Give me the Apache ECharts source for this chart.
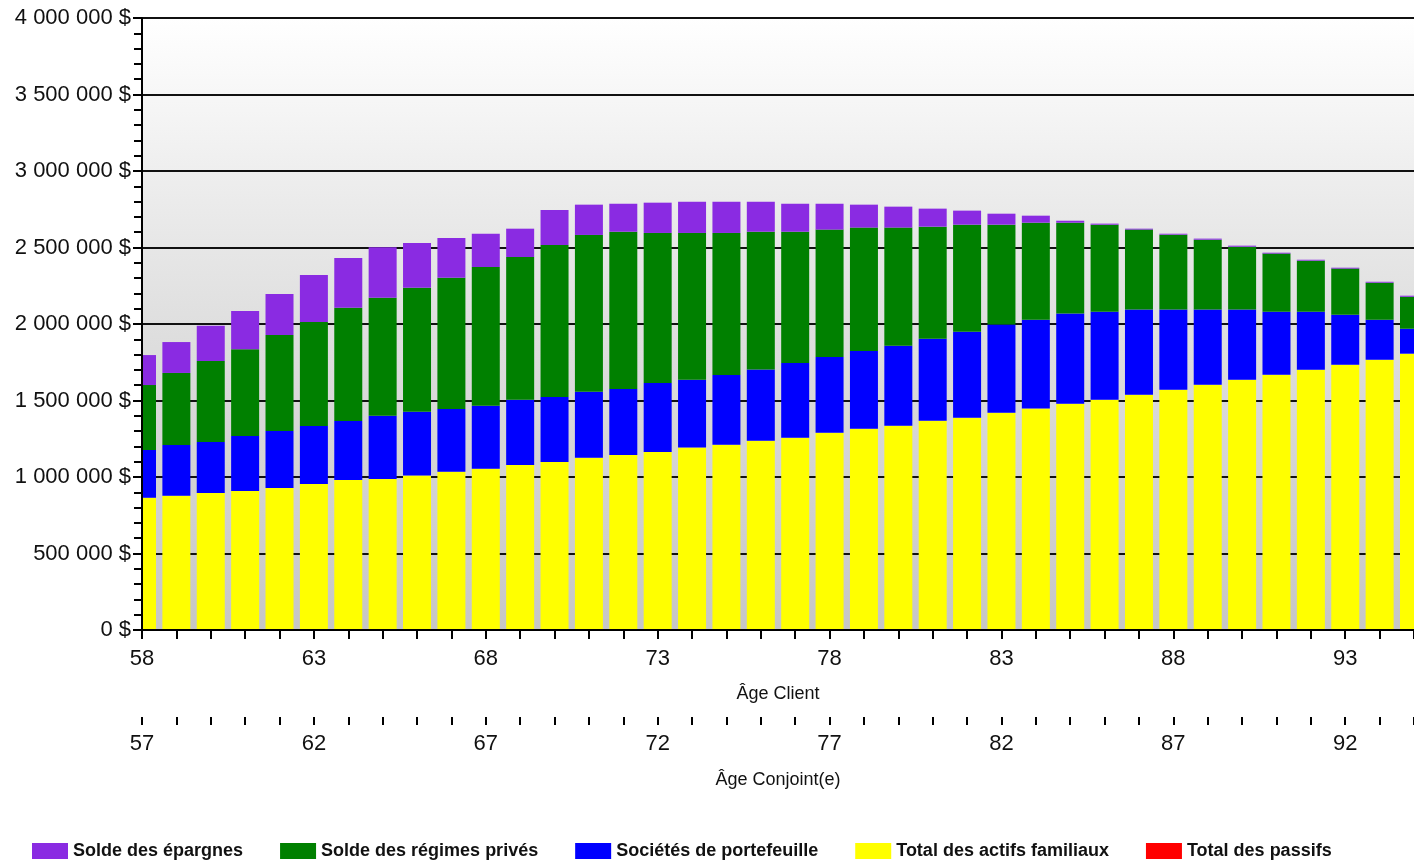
<!DOCTYPE html>
<html>
<head>
<meta charset="utf-8">
<script src="https://cdn.jsdelivr.net/npm/echarts@6/dist/echarts.min.js"></script>
<style>
  html, body { margin: 0; padding: 0; background: #fff; }
  #chart { width: 1414px; height: 864px; }
</style>
</head>
<body>
<div id="chart"></div>
<script>
// Âge du client (axe principal) et âge du conjoint (second axe)
const agesClient = ['58', '59', '60', '61', '62', '63', '64', '65', '66', '67', '68', '69', '70',
  '71', '72', '73', '74', '75', '76', '77', '78', '79', '80', '81', '82', '83', '84', '85',
  '86', '87', '88', '89', '90', '91', '92', '93', '94', '95'];

const agesConjoint = ['57', '58', '59', '60', '61', '62', '63', '64', '65', '66', '67', '68', '69',
  '70', '71', '72', '73', '74', '75', '76', '77', '78', '79', '80', '81', '82', '83', '84',
  '85', '86', '87', '88', '89', '90', '91', '92', '93', '94'];

const actifsFamiliaux = [865000, 878000, 895000, 908000, 928000, 954000, 980000, 987000, 1009000, 1035000,
  1054000, 1078000, 1098000, 1126000, 1144000, 1163000, 1192000, 1211000, 1237000, 1257000,
  1290000, 1316000, 1335000, 1368000, 1388000, 1420000, 1447000, 1479000, 1505000, 1538000,
  1571000, 1603000, 1636000, 1669000, 1701000, 1734000, 1767000, 1806000];

const portefeuille = [311000, 331000, 334000, 360000, 373000, 379000, 386000, 414000, 418000, 409000,
  412000, 427000, 425000, 432000, 431000, 451000, 444000, 456000, 465000, 488000,
  494000, 508000, 523000, 536000, 562000, 576000, 581000, 589000, 575000, 556000,
  523000, 491000, 458000, 411000, 379000, 327000, 261000, 163000];

const regimesPrives = [425000, 471000, 529000, 567000, 627000, 680000, 741000, 771000, 810000, 859000,
  907000, 933000, 993000, 1024000, 1028000, 981000, 959000, 928000, 901000, 858000,
  833000, 806000, 772000, 732000, 699000, 653000, 634000, 594000, 569000, 523000,
  490000, 457000, 411000, 380000, 334000, 301000, 242000, 209000];

const epargnes = [196000, 202000, 231000, 250000, 268000, 307000, 324000, 329000, 292000, 259000,
  217000, 185000, 229000, 198000, 183000, 198000, 204000, 204000, 196000, 183000,
  169000, 150000, 137000, 118000, 92000, 72000, 46000, 13000, 7000, 6000,
  6000, 7000, 7000, 6000, 6000, 6000, 6000, 7000];

const passifs = [0, 0, 0, 0, 0, 0, 0, 0, 0, 0, 0, 0, 0, 0, 0, 0, 0, 0, 0,
                 0, 0, 0, 0, 0, 0, 0, 0, 0, 0, 0, 0, 0, 0, 0, 0, 0, 0, 0];

const FONT = '"Liberation Sans", Arial, sans-serif';
const GRID_LEFT = 142;
const Y_MAX = 4000000;
const Y_STEP = 500000;

function money(v) {
  return String(v).replace(/\B(?=(\d{3})+(?!\d))/g, ' ') + ' $';
}

function barSeries(name, values, color) {
  return {
    name: name,
    type: 'bar',
    stack: 'total',
    barWidth: 28,
    itemStyle: { color: color },
    data: values
  };
}

const chart = echarts.init(document.getElementById('chart'));

chart.setOption({
  animation: false,
  textStyle: { fontFamily: FONT },
  grid: {
    left: GRID_LEFT, right: 0, top: 18, bottom: 234,
    show: true,
    borderWidth: 0,
    backgroundColor: new echarts.graphic.LinearGradient(0, 0, 0, 1, [
      { offset: 0, color: '#ffffff' },
      { offset: 0.3, color: '#ebebeb' },
      { offset: 0.5, color: '#dfdfdf' },
      { offset: 1, color: '#c6c6c6' }
    ])
  },
  // white strip hiding the half of the first bar that overflows left of the y axis
  graphic: [{
    type: 'rect',
    z: 5,
    silent: true,
    shape: { x: 0, y: 0, width: GRID_LEFT - 1, height: 631 },
    style: { fill: '#ffffff' }
  }],
  legend: {
    left: 27,
    top: 837,
    itemWidth: 36,
    itemHeight: 16,
    itemGap: 37,
    icon: 'rect',
    selectedMode: false,
    textStyle: { fontFamily: FONT, fontSize: 18, fontWeight: 'bold', color: '#111' },
    data: ['Solde des épargnes', 'Solde des régimes privés', 'Sociétés de portefeuille',
           'Total des actifs familiaux', 'Total des passifs']
  },
  xAxis: [
    {
      type: 'category',
      data: agesClient,
      boundaryGap: false,
      position: 'bottom',
      z: 10,
      name: 'Âge Client',
      nameLocation: 'middle',
      nameGap: 55,
      nameTextStyle: { fontSize: 18, color: '#111', fontFamily: FONT },
      axisLine: { show: true, onZero: false, lineStyle: { color: '#000', width: 2 } },
      axisTick: { show: true, interval: 0, length: 9, lineStyle: { color: '#000', width: 2 } },
      axisLabel: { interval: 4, fontSize: 22, color: '#111', margin: 18 },
      splitLine: { show: false }
    },
    {
      type: 'category',
      data: agesConjoint,
      boundaryGap: false,
      position: 'bottom',
      offset: 87,
      name: 'Âge Conjoint(e)',
      nameLocation: 'middle',
      nameGap: 54,
      nameTextStyle: { fontSize: 18, color: '#111', fontFamily: FONT },
      axisLine: { show: true, onZero: false, lineStyle: { color: '#000', width: 1, opacity: 0 } },
      axisTick: { show: true, interval: 0, length: 8, lineStyle: { color: '#000', width: 2 } },
      axisLabel: { interval: 4, fontSize: 22, color: '#111', margin: 16 },
      splitLine: { show: false }
    }
  ],
  yAxis: [
    {
      // labels, ticks and axis line, drawn above the bars
      type: 'value',
      min: 0, max: Y_MAX, interval: Y_STEP,
      position: 'left',
      z: 10,
      axisLine: { show: true, lineStyle: { color: '#000', width: 2 } },
      axisTick: { show: true, length: 9, lineStyle: { color: '#000', width: 2 } },
      minorTick: { show: true, splitNumber: 5, length: 8, lineStyle: { color: '#000', width: 2 } },
      axisLabel: { fontSize: 22, color: '#111', margin: 11, padding: [6, 0, 0, 0], formatter: money },
      splitLine: { show: false }
    },
    {
      // grid lines only, drawn behind the bars
      type: 'value',
      min: 0, max: Y_MAX, interval: Y_STEP,
      position: 'left',
      z: 0,
      axisLine: { show: false },
      axisTick: { show: false },
      axisLabel: { show: false },
      splitLine: { show: true, lineStyle: { color: '#111', width: 2 } }
    }
  ],
  series: [
    barSeries('Total des actifs familiaux', actifsFamiliaux, '#ffff00'),
    barSeries('Sociétés de portefeuille', portefeuille, '#0000ff'),
    barSeries('Solde des régimes privés', regimesPrives, '#008000'),
    barSeries('Solde des épargnes', epargnes, '#8a2be2'),
    barSeries('Total des passifs', passifs, '#ff0000')
  ]
});
</script>
</body>
</html>
